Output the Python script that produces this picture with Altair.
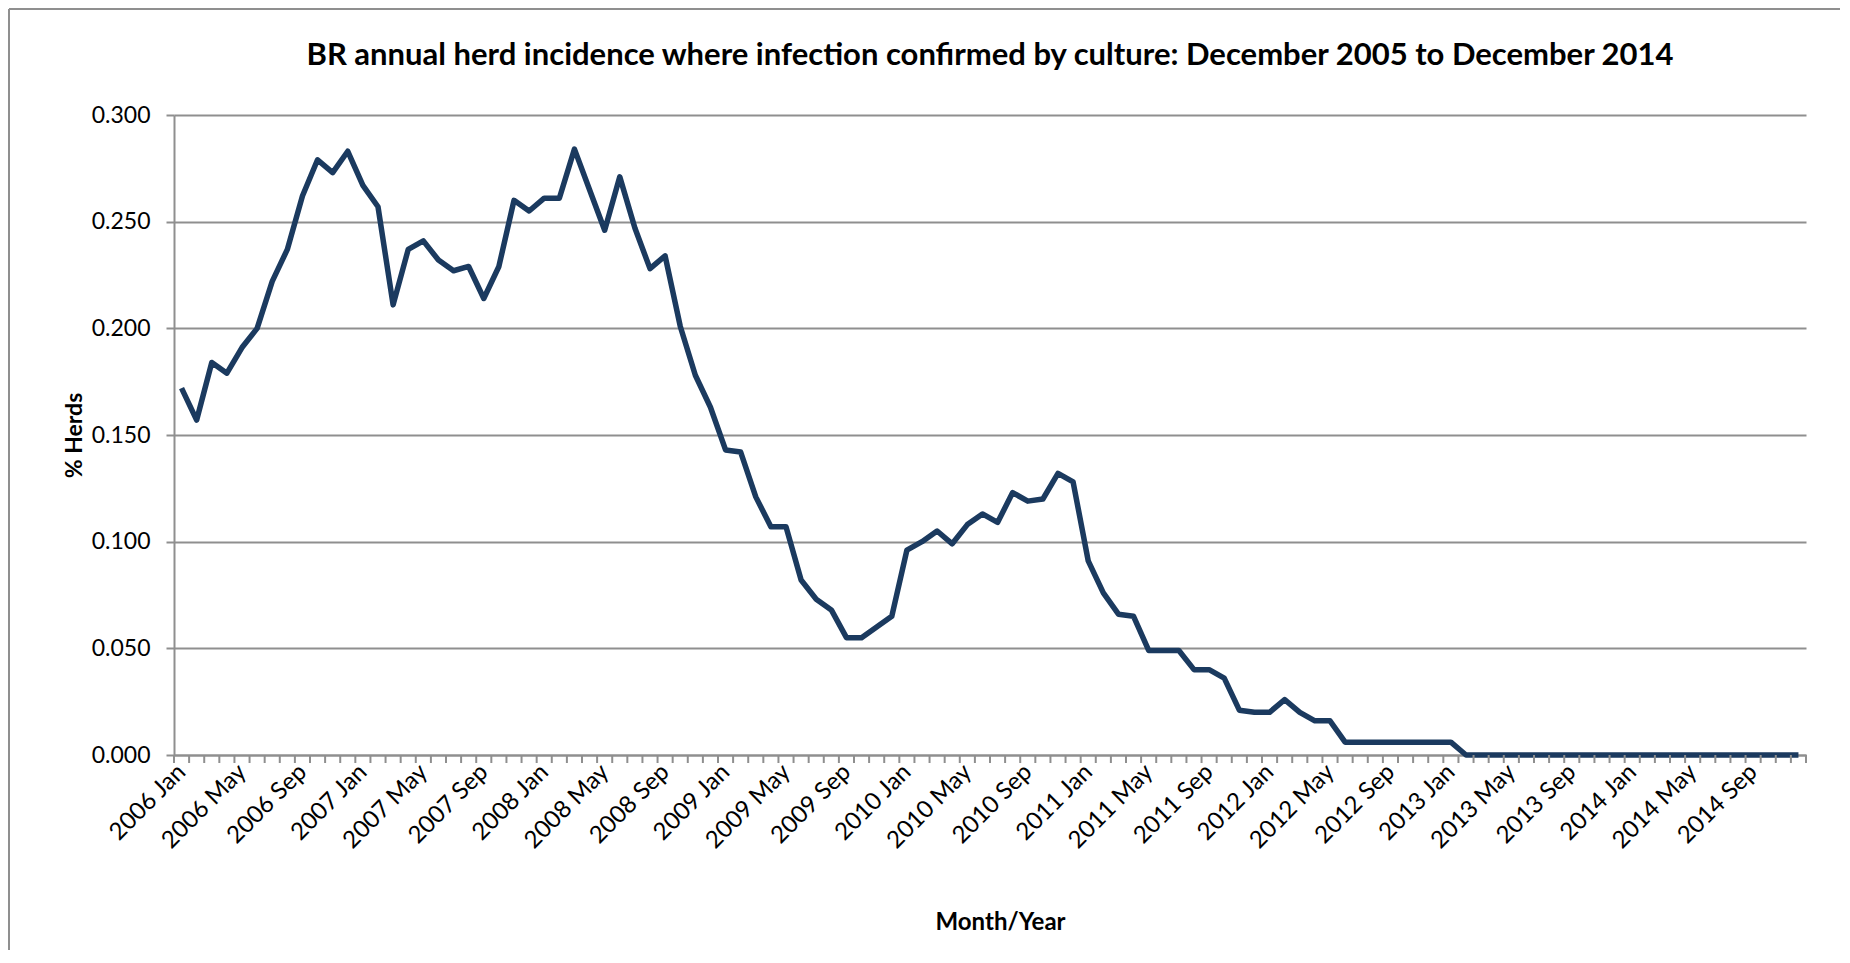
import altair as alt
import pandas as pd

# ---------------- data ----------------
years = [2006, 2007, 2008, 2009, 2010, 2011, 2012, 2013, 2014]
month_names = ["Jan", "Feb", "Mar", "Apr", "May", "Jun",
               "Jul", "Aug", "Sep", "Oct", "Nov", "Dec"]
months = [f"{y} {m}" for y in years for m in month_names]

herds_pct = [
    # 2006
    0.172, 0.157, 0.184, 0.179, 0.191, 0.200, 0.222, 0.237, 0.262, 0.279, 0.273, 0.283,
    # 2007
    0.267, 0.257, 0.211, 0.237, 0.241, 0.232, 0.227, 0.229, 0.214, 0.229, 0.260, 0.255,
    # 2008
    0.261, 0.261, 0.284, 0.265, 0.246, 0.271, 0.247, 0.228, 0.234, 0.201, 0.178, 0.163,
    # 2009
    0.143, 0.142, 0.121, 0.107, 0.107, 0.082, 0.073, 0.068, 0.055, 0.055, 0.060, 0.065,
    # 2010
    0.096, 0.100, 0.105, 0.099, 0.108, 0.113, 0.109, 0.123, 0.119, 0.120, 0.132, 0.128,
    # 2011
    0.091, 0.076, 0.066, 0.065, 0.049, 0.049, 0.049, 0.040, 0.040, 0.036, 0.021, 0.020,
    # 2012
    0.020, 0.026, 0.020, 0.016, 0.016, 0.006, 0.006, 0.006, 0.006, 0.006, 0.006, 0.006,
    # 2013
    0.006, 0.000, 0.000, 0.000, 0.000, 0.000, 0.000, 0.000, 0.000, 0.000, 0.000, 0.000,
    # 2014
    0.000, 0.000, 0.000, 0.000, 0.000, 0.000, 0.000, 0.000, 0.000, 0.000, 0.000, 0.000,
]

y_ticks = [0.0, 0.05, 0.10, 0.15, 0.20, 0.25, 0.30]
title_text = ("BR annual  herd incidence  where infection confirmed  by culture:  "
              "December 2005 to  December 2014")

# ---------------- tables ----------------
n = len(months)
df = pd.DataFrame({"idx": list(range(n)), "month": months, "pct": herds_pct})
bounds = pd.DataFrame({"b": [i - 0.5 for i in range(n + 1)]})
one = pd.DataFrame({"k": [0]})

label_js = "[" + ",".join(f"'{m}'" for m in months) + "]"
label_values = list(range(0, n, 4))

FONT = "Lato"
GRID = "#8f8f8f"
LINE = "#1B3A5F"
W, H = 1632, 640

x_scale = alt.Scale(domain=[-0.5, n - 0.5], nice=False, zero=False)
y_scale = alt.Scale(domain=[0, 0.3], nice=False, zero=True)

x_axis = alt.Axis(
    values=label_values,
    labelExpr=f"{label_js}[datum.value]",
    labelAngle=-45, labelAlign="right", labelBaseline="middle",
    labelOverlap=False, labelFlush=False, ticks=False,
    labelPadding=13, labelFont=FONT, labelFontSize=24, labelColor="black",
    domainColor=GRID, domainWidth=2, grid=False,
    title="Month/Year", titleFont=FONT, titleFontSize=24, titleFontWeight="bold",
    titleColor="black", titlePadding=58, titleX=W / 2 + 10)

line = alt.Chart(df).mark_line(color=LINE, strokeWidth=5.5, strokeJoin="round").encode(
    x=alt.X("idx:Q", scale=x_scale, axis=x_axis),
    y=alt.Y("pct:Q", scale=y_scale, axis=alt.Axis(
        values=y_ticks, format=".3f", grid=True, gridColor=GRID, gridWidth=2,
        domainColor=GRID, domainWidth=2, tickColor=GRID, tickWidth=2, tickSize=8,
        labelFont=FONT, labelFontSize=23, labelColor="black", labelPadding=16,
        title="% Herds", titleFont=FONT, titleFontSize=23, titleFontWeight="bold",
        titleColor="black", titlePadding=5)),
)

ticks = alt.Chart(bounds).mark_rule(color=GRID, strokeWidth=2).encode(
    x=alt.X("b:Q", scale=x_scale, axis=x_axis),
    y=alt.value(H),
    y2=alt.value(H + 8),
)

frame_left = alt.Chart(one).mark_rule(color=GRID, strokeWidth=2).encode(
    x=alt.value(-165), y=alt.value(-106), y2=alt.value(835))
frame_top = alt.Chart(one).mark_rule(color=GRID, strokeWidth=2).encode(
    x=alt.value(-165), x2=alt.value(1666), y=alt.value(-106))

chart = alt.layer(line, ticks, frame_left, frame_top).properties(
    width=W, height=H,
    title=alt.TitleParams(text=title_text, font=FONT, fontSize=31, fontWeight="bold",
                          color="black", anchor="middle", offset=-88,
                          baseline="alphabetic"),
).configure(padding=0, background="white").configure_view(stroke=None)

chart.save("out.html", embed_options={"renderer": "svg", "actions": False})
